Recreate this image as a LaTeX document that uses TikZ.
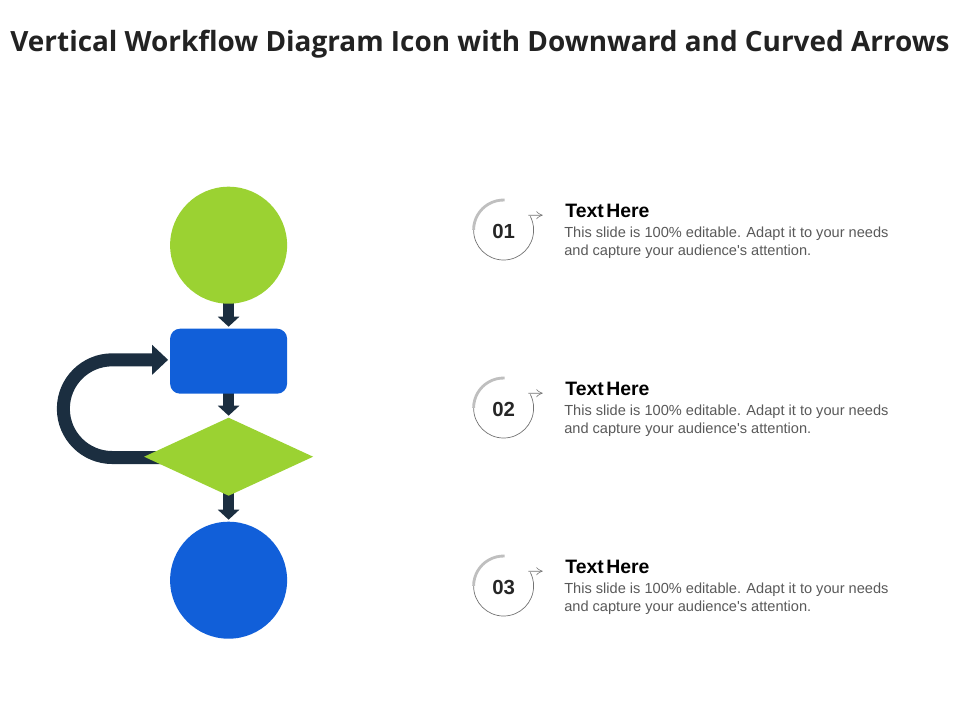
\documentclass[tikz,border=0pt]{standalone}
\usepackage{fontspec}
\setmainfont{Liberation Sans}
\newfontfamily\titlefont{Open Sans}
\usepackage{xcolor}
\usetikzlibrary{calc, positioning, arrows.meta, shapes.geometric, backgrounds}

\definecolor{verde}{HTML}{9BD232}
\definecolor{azul}{HTML}{115FD9}
\definecolor{marinho}{HTML}{1B2E40}
\definecolor{cinzatexto}{HTML}{595959}
\definecolor{tinta}{HTML}{222222}

\newcommand{\cabecatexto}{\spaceskip=0.12em\relax Text Here}

\tikzset{
    forma/.style={draw=none, inner sep=0pt, outer sep=0pt},
    circulo/.style={forma, circle, minimum size=2.925cm},
    seta/.style={-{Triangle[width=0.525cm, length=0.25cm]}, line width=0.275cm, marinho, shorten >=0.05cm},
    laco/.style={-{Triangle[width=0.725cm, length=0.4cm]}, line width=0.325cm, marinho, shorten >=0.05cm},
    numero/.style={font=\fontsize{14.5}{16}\selectfont\bfseries, text=black!85},
    cabeca/.style={font=\fontsize{13.8}{15}\selectfont\bfseries, text=black, anchor=west, inner sep=0pt},
    corpo/.style={font=\fontsize{10.38}{12.75}\selectfont, text=cinzatexto, anchor=west, align=left, inner sep=0pt},
    anelfino/.style={draw=black!55, line width=0.5pt, -{Classical TikZ Rightarrow[length=0.16cm, width=0.2cm]}},
    anelgrosso/.style={draw=black!25, line width=2pt},
}

\begin{document}
\begin{tikzpicture}
        \useasboundingbox (0,0) rectangle (24,-18);

        % Title
        \node (titulo) at (12,-1.11) {\color{tinta}\titlefont\fontsize{19.85}{22}\selectfont\bfseries Vertical Workflow Diagram Icon with Downward and Curved Arrows};

        % Nodes
        \node (inicio) [circulo, fill=verde] at (5.715,-6.13) {};
        \node (caixa) [forma, rectangle, fill=azul, minimum width=2.925cm, minimum height=1.625cm, rounded corners=0.25cm, below=0.625cm of inicio] {};
        \node (decisao) [forma, diamond, fill=verde, minimum width=4.225cm, minimum height=1.95cm, aspect=2.17, below=0.6cm of caixa] {};
        \node (fim) [circulo, fill=azul, below=0.65cm of decisao] {};

        \coordinate (saidalaco) at ([yshift=-0.02cm]decisao.center);
        \coordinate (entradalaco) at ([yshift=0.035cm]caixa.west);

        % Arrows
        \begin{scope}[on background layer]
        \draw[seta] (inicio.center) -- (caixa);
        \draw[seta] (caixa.center) -- (decisao);
        \draw[seta] (decisao.center) -- (fim);
        \draw[laco] (saidalaco) -- ++(-2.91,0) arc (270:90:1.221) -- (entradalaco);
        \end{scope}

        % Items
        \node (num1) [numero] at (12.59,-5.785) {01};
        \node (num2) [numero] at ([yshift=-4.45cm]num1) {02};
        \node (num3) [numero] at ([yshift=-4.45cm]num2) {03};

        \draw[anelfino] ([shift={(-0.75,0.035)}]num1.center) arc (180:387:0.75) ++(-0.05,0.03) -- ++(0.36,0);
        \draw[anelgrosso] ([shift={(-0.75,0.035)}]num1.center) arc (180:88:0.75);
        \node (cabeca1) [cabeca] at ($(num1)+(1.54,0.5)$) {\cabecatexto};
        \node (corpo1) [corpo] at ($(num1)+(1.51,-0.28)$) {This slide is 100\% editable.  Adapt it to your needs\\and capture your audience\textquotesingle s attention.};

        \draw[anelfino] ([shift={(-0.75,0.035)}]num2.center) arc (180:387:0.75) ++(-0.05,0.03) -- ++(0.36,0);
        \draw[anelgrosso] ([shift={(-0.75,0.035)}]num2.center) arc (180:88:0.75);
        \node (cabeca2) [cabeca] at ($(num2)+(1.54,0.5)$) {\cabecatexto};
        \node (corpo2) [corpo] at ($(num2)+(1.51,-0.28)$) {This slide is 100\% editable.  Adapt it to your needs\\and capture your audience\textquotesingle s attention.};

        \draw[anelfino] ([shift={(-0.75,0.035)}]num3.center) arc (180:387:0.75) ++(-0.05,0.03) -- ++(0.36,0);
        \draw[anelgrosso] ([shift={(-0.75,0.035)}]num3.center) arc (180:88:0.75);
        \node (cabeca3) [cabeca] at ($(num3)+(1.54,0.5)$) {\cabecatexto};
        \node (corpo3) [corpo] at ($(num3)+(1.51,-0.28)$) {This slide is 100\% editable.  Adapt it to your needs\\and capture your audience\textquotesingle s attention.};
\end{tikzpicture}
\end{document}
